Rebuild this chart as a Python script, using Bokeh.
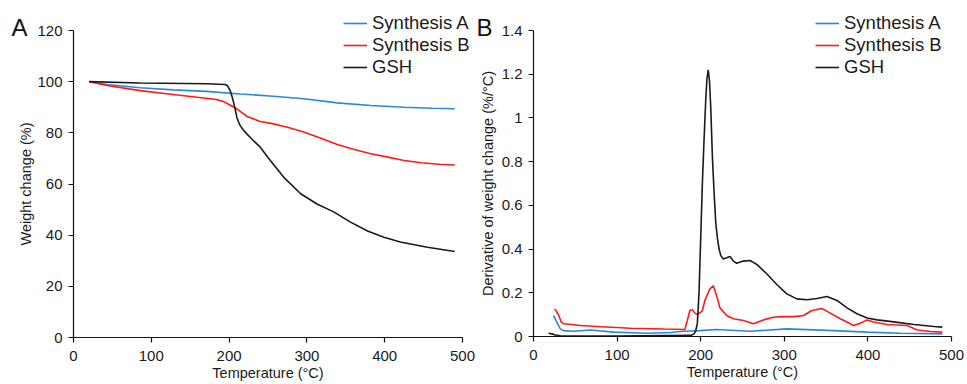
from bokeh.plotting import figure
from bokeh.layouts import row
from bokeh.models import Range1d, FixedTicker, Label, NumeralTickFormatter
from bokeh.embed import file_html
from bokeh.resources import INLINE

# ---------------- Panel A : TGA weight change (%) ----------------
a_synA_T = [20, 43, 86, 128, 171, 214, 257, 296, 339, 382, 425, 460, 490]
a_synA_W = [100, 98.9, 97.6, 96.8, 96.2, 95.2, 94.3, 93.3, 91.7, 90.7, 90.0, 89.6, 89.4]

a_synB_T = [20, 43, 86, 128, 184, 193, 201, 210, 223, 240, 257, 275, 296, 318,
            339, 361, 382, 404, 425, 447, 470, 490]
a_synB_W = [100, 98.5, 96.5, 95.0, 93.0, 92.2, 90.9, 89.4, 86.4, 84.4, 83.5, 82.2,
            80.3, 77.9, 75.4, 73.5, 71.8, 70.5, 69.2, 68.3, 67.7, 67.4]

a_gsh_T = [20, 86, 171, 195, 198, 201.4, 203.5, 205.7, 208, 210, 212, 214.2, 218,
           222.8, 230, 240, 253, 270, 292, 313, 335, 356, 378, 399, 420, 455, 490]
a_gsh_W = [100, 99.5, 99.2, 98.9, 98.4, 96.5, 94.5, 92.0, 89.0, 86.1, 84.3, 82.9,
           81.2, 79.6, 77.3, 74.4, 69.2, 62.7, 56.2, 52.2, 49.0, 45.1, 41.6, 39.2,
           37.3, 35.3, 33.6]

# ---------------- Panel B : derivative (%/°C) ----------------
b_synA_T = [24, 28, 32, 36, 48, 68, 96, 136, 164, 180, 199, 219, 259, 303, 359,
            399, 439, 489]
b_synA_D = [0.096, 0.066, 0.035, 0.027, 0.024, 0.030, 0.020, 0.015, 0.018, 0.024,
            0.027, 0.032, 0.024, 0.035, 0.027, 0.020, 0.015, 0.012]

b_synB_T = [25, 26.3, 30.3, 33.1, 36.3, 56, 76, 116, 156, 181, 184, 187, 190, 193,
            195.8, 201.8, 205, 211, 215, 219, 223, 231, 239, 251, 263, 275, 287,
            299, 311, 323, 333, 345, 355, 367, 383, 391, 399, 407, 423, 447, 459,
            475, 489]
b_synB_D = [0.125, 0.122, 0.096, 0.066, 0.058, 0.050, 0.046, 0.038, 0.034, 0.032,
            0.073, 0.119, 0.122, 0.107, 0.100, 0.116, 0.165, 0.218, 0.232, 0.188,
            0.131, 0.096, 0.081, 0.073, 0.058, 0.076, 0.088, 0.091, 0.091, 0.096,
            0.119, 0.128, 0.107, 0.081, 0.050, 0.061, 0.076, 0.066, 0.055, 0.050,
            0.030, 0.023, 0.020]

b_gsh_T = [18, 22, 26, 32, 100, 188, 192, 194, 196, 198, 200, 202, 204, 206, 207.5,
           209, 210.5, 212, 214, 216, 218, 220, 222, 224, 227, 231, 235, 239, 243,
           251, 259, 267, 279, 291, 303, 315, 327, 339, 351, 363, 375, 387, 399,
           411, 431, 455, 479, 489]
b_gsh_D = [0.015, 0.012, 0.007, 0.003, 0.002, 0.005, 0.012, 0.025, 0.06, 0.2, 0.45,
           0.7, 0.9, 1.08, 1.18, 1.22, 1.17, 1.05, 0.82, 0.66, 0.52, 0.45, 0.40,
           0.37, 0.355, 0.36, 0.366, 0.345, 0.335, 0.345, 0.348, 0.33, 0.287,
           0.238, 0.195, 0.172, 0.168, 0.174, 0.183, 0.165, 0.131, 0.104, 0.085,
           0.076, 0.067, 0.055, 0.046, 0.043]

series_names = ["Synthesis A", "Synthesis B", "GSH"]
x_ticks = [0, 100, 200, 300, 400, 500]
a_y_ticks = [0, 20, 40, 60, 80, 100, 120]
b_y_ticks = [0, 0.2, 0.4, 0.6, 0.8, 1.0, 1.2, 1.4]

BLUE = "#2b87d8"
RED = "#ff1a1a"
BLACK = "#1a1a1a"
FONT = "Liberation Sans"
TXT = "#1a1a1a"
H = 384


def span_range(p_lo, p_hi, v_lo, v_hi, size):
    """Range whose canvas edges (0..size px) place v_lo at p_lo and v_hi at p_hi."""
    k = (p_hi - p_lo) / (v_hi - v_lo)
    return Range1d(v_lo - p_lo / k, v_lo + (size - p_lo) / k)


def make_panel(width, xpix, ypix, yticks, ylabel, ylab_standoff):
    # xpix: canvas x of T=0 and T=500 ; ypix: canvas y (from top) of lowest/highest y tick
    xr = span_range(xpix[0], xpix[1], x_ticks[0], x_ticks[-1], width)
    yr = span_range(H - ypix[0], H - ypix[1], yticks[0], yticks[-1], H)
    p = figure(width=width, height=H, x_range=xr, y_range=yr,
               output_backend="svg", toolbar_location=None,
               min_border=0, min_border_left=0, min_border_right=0,
               min_border_top=0, min_border_bottom=0)
    p.outline_line_color = None
    p.grid.visible = False
    p.background_fill_color = "white"
    p.border_fill_color = "white"
    for ax in (p.xaxis[0], p.yaxis[0]):
        ax.axis_line_color = "#111111"
        ax.axis_line_width = 1.2
        ax.major_tick_line_color = "#111111"
        ax.major_tick_line_width = 1.2
        ax.major_tick_out = 5
        ax.major_tick_in = 0
        ax.minor_tick_line_color = None
        ax.major_label_text_font = FONT
        ax.major_label_text_font_size = "15px"
        ax.major_label_text_color = TXT
        ax.axis_label_text_font = FONT
        ax.axis_label_text_font_size = "14.5px"
        ax.axis_label_text_font_style = "normal"
        ax.axis_label_text_color = TXT
    p.xaxis.fixed_location = yticks[0]
    p.yaxis.fixed_location = x_ticks[0]
    p.xaxis.bounds = (x_ticks[0], x_ticks[-1])
    p.yaxis.bounds = (yticks[0], yticks[-1])
    p.xaxis.ticker = FixedTicker(ticks=x_ticks)
    p.yaxis.ticker = FixedTicker(ticks=yticks)
    p.xaxis.axis_label = "Temperature (°C)"
    p.yaxis.axis_label = ylabel
    p.xaxis.major_label_standoff = 8
    p.xaxis.axis_label_standoff = 1
    p.yaxis.major_label_standoff = 6
    p.yaxis.axis_label_standoff = ylab_standoff
    return p


def legend_style(p, loc):
    lg = p.legend[0]
    lg.location = loc
    lg.padding = 0
    lg.margin = 0
    lg.border_line_color = None
    lg.background_fill_alpha = 0
    lg.label_text_font = FONT
    lg.label_text_font_size = "18.5px"
    lg.label_text_color = TXT
    lg.glyph_width = 24
    lg.glyph_height = 20
    lg.label_height = 20
    lg.spacing = 0
    lg.label_standoff = 5


# ---------- Figure A ----------
pA = make_panel(476, (73, 462), (337, 30), a_y_ticks, "Weight change (%)", 0)
pA.line(a_synA_T, a_synA_W, line_color=BLUE, line_width=1.6, legend_label=series_names[0])
pA.line(a_synB_T, a_synB_W, line_color=RED, line_width=1.6, legend_label=series_names[1])
pA.line(a_gsh_T, a_gsh_W, line_color=BLACK, line_width=1.6, legend_label=series_names[2])
legend_style(pA, (343, 306))
pA.add_layout(Label(x=11, y=344, x_units="screen", y_units="screen", text="A",
                    text_font=FONT, text_font_size="24px", text_color="#111111"))

# ---------- Figure B ----------
pB = make_panel(491, (57, 475), (336, 30), b_y_ticks,
                "Derivative of weight change (%/°C)", 3)
pB.yaxis.formatter = NumeralTickFormatter(format="0.[0]")
pB.line(b_synA_T, b_synA_D, line_color=BLUE, line_width=1.6, legend_label=series_names[0])
pB.line(b_synB_T, b_synB_D, line_color=RED, line_width=1.6, legend_label=series_names[1])
pB.line(b_gsh_T, b_gsh_D, line_color=BLACK, line_width=1.6, legend_label=series_names[2])
legend_style(pB, (339, 306))
pB.add_layout(Label(x=0, y=344, x_units="screen", y_units="screen", text="B",
                    text_font=FONT, text_font_size="24px", text_color="#111111"))

layout = row(pA, pB)
open("out.html", "w").write(file_html(layout, INLINE))
